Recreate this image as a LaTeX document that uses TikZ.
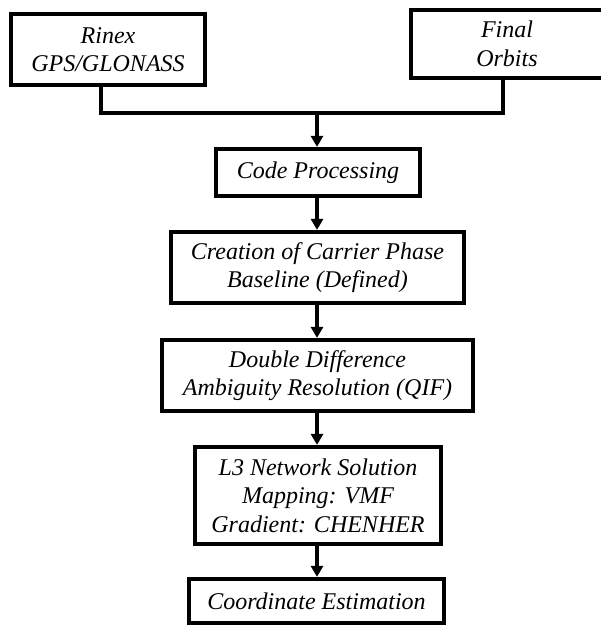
\documentclass[tikz,border=0pt]{standalone}
\usepackage{fontspec}
\setmainfont{Liberation Serif}
\usetikzlibrary{arrows.meta,calc}
\begin{document}
\begin{tikzpicture}[x=1pt,y=-1pt,
  box/.style={draw=black,line width=4.2pt,fill=white,inner sep=0pt,align=center,
    font=\fontsize{24}{28.5}\selectfont\itshape},
  link/.style={line width=3.8pt},
  arr/.style={line width=3.8pt,-{Triangle[length=11pt,width=12pt]}}]
\useasboundingbox (0,0) rectangle (601,627);
\node[box,minimum width=194pt,minimum height=71pt] (rinex) at (108,49.5) {Rinex\\GPS/GLONASS};
\node[box,minimum width=192pt,minimum height=68pt] (final) at (507,44) {Final\\Orbits};
\node[box,minimum width=204pt,minimum height=47pt] (code) at (318,172.5) {Code Processing};
\node[box,minimum width=293pt,minimum height=71pt] (carrier) at (317.5,267.5) {Creation of Carrier Phase\\Baseline (Defined)};
\node[box,minimum width=311pt,minimum height=71pt] (double) at (317.5,375.5) {Double Difference\\Ambiguity Resolution (QIF)};
\node[box,minimum width=246pt,minimum height=97pt] (l3) at (318,495.5) {L3 Network Solution\\Mapping: VMF\\Gradient: CHENHER};
\node[box,minimum width=255pt,minimum height=44pt] (coord) at (316.5,601) {Coordinate Estimation};
\coordinate (jl) at (101,113);
\coordinate (jr) at (503,113);
\coordinate (jm) at (317,113);
\draw[link] (jl |- rinex.south) -- (jl) -- (jr) -- (jr |- final.south);
\draw[arr] (jm) -- (jm |- code.north);
\draw[arr] (code.south -| jm) -- (carrier.north -| jm);
\draw[arr] (carrier.south -| jm) -- (double.north -| jm);
\draw[arr] (double.south -| jm) -- (l3.north -| jm);
\draw[arr] (l3.south -| jm) -- (coord.north -| jm);
\end{tikzpicture}
\end{document}
